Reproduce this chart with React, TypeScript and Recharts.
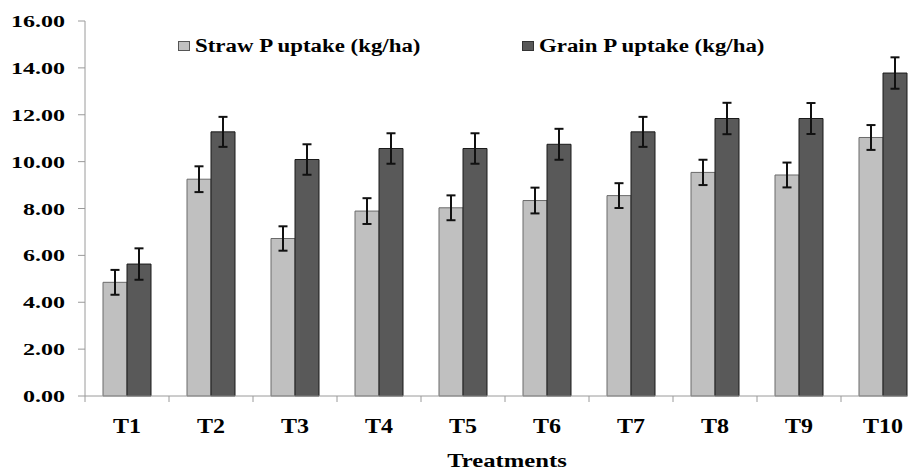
import React from "react";
import { Bar, BarChart, ErrorBar, Legend, XAxis, YAxis } from "recharts";

const treatments = ["T1", "T2", "T3", "T4", "T5", "T6", "T7", "T8", "T9", "T10"];
const strawUptake = [4.85, 9.25, 6.72, 7.89, 8.03, 8.34, 8.55, 9.54, 9.43, 11.03];
const strawError = [0.53, 0.55, 0.52, 0.55, 0.53, 0.55, 0.53, 0.54, 0.53, 0.53];
const grainUptake = [5.63, 11.27, 10.09, 10.56, 10.56, 10.74, 11.27, 11.84, 11.84, 13.78];
const grainError = [0.67, 0.64, 0.65, 0.65, 0.65, 0.66, 0.64, 0.67, 0.66, 0.67];
const yTicks = [0, 2, 4, 6, 8, 10, 12, 14, 16];

const STRAW = "Straw P uptake (kg/ha)";
const GRAIN = "Grain P uptake (kg/ha)";

const data = treatments.map((t, i) => ({
  name: t,
  straw: strawUptake[i],
  strawErr: strawError[i],
  grain: grainUptake[i],
  grainErr: grainError[i],
}));

const serif = '"Liberation Serif", "Times New Roman", serif';
const axisGray = "#9a9a9a";

function YTick({ x, y, payload }: any) {
  return (
    <text
      x={0}
      y={0}
      dy={6}
      transform={`translate(${x},${y}) scale(1.5,1)`}
      textAnchor="end"
      fontFamily={serif}
      fontWeight="bold"
      fontSize={16}
      fill="#000"
    >
      {Number(payload.value).toFixed(2)}
    </text>
  );
}

function XTick({ x, y, payload }: any) {
  const half = payload.offset || 42;
  return (
    <g>
      <line x1={x - half} x2={x - half} y1={y - 8} y2={y - 2} stroke={axisGray} />
      <text
        x={0}
        y={0}
        transform={`translate(${x},${y + 29}) scale(1.2,1)`}
        textAnchor="middle"
        fontFamily={serif}
        fontWeight="bold"
        fontSize={20}
        fill="#000"
      >
        {payload.value}
      </text>
    </g>
  );
}

function AxisTitle({ viewBox }: any) {
  const cx = viewBox.x + viewBox.width / 2 + 2;
  return (
    <text
      x={0}
      y={0}
      transform={`translate(${cx},${viewBox.y + 71}) scale(1.37,1)`}
      textAnchor="middle"
      fontFamily={serif}
      fontWeight="bold"
      fontSize={18}
      fill="#000"
    >
      Treatments
    </text>
  );
}

const legendSpots: Record<string, { box: number; text: number; border: string }> = {
  [STRAW]: { box: 178, text: 195, border: "#555" },
  [GRAIN]: { box: 522, text: 539, border: "#333" },
};

function LegendContent({ payload }: any) {
  return (
    <div style={{ position: "relative", width: 908, height: 0 }}>
      {(payload || []).map((item: any) => {
        const spot = legendSpots[item.value];
        if (!spot) return null;
        return (
          <React.Fragment key={item.value}>
            <div
              style={{
                position: "absolute",
                left: spot.box,
                top: 41,
                width: 10,
                height: 8,
                background: item.color,
                border: `1px solid ${spot.border}`,
              }}
            />
            <span
              style={{
                position: "absolute",
                left: spot.text,
                top: 37,
                whiteSpace: "nowrap",
                fontFamily: serif,
                fontWeight: "bold",
                fontSize: 18,
                lineHeight: "18px",
                color: "#000",
                transform: "scaleX(1.27)",
                transformOrigin: "left center",
              }}
            >
              {item.value}
            </span>
          </React.Fragment>
        );
      })}
    </div>
  );
}

export default function App() {
  return (
    <div
      style={{
        position: "absolute",
        left: 0,
        top: 0,
        width: 908,
        height: 470,
        overflow: "hidden",
        background: "#fff",
      }}
    >
      <BarChart
        width={930}
        height={470}
        data={data}
        margin={{ top: 21, right: 5, left: 0, bottom: 0 }}
        barCategoryGap={18}
        barGap={0}
      >
        <XAxis
          dataKey="name"
          height={74}
          axisLine={{ stroke: axisGray }}
          tickLine={false}
          tickSize={6}
          tickMargin={2}
          interval={0}
          tick={<XTick />}
          label={<AxisTitle />}
        />
        <YAxis
          width={85}
          domain={[0, 16]}
          ticks={yTicks}
          interval={0}
          axisLine={{ stroke: axisGray }}
          tickLine={{ stroke: axisGray }}
          tickSize={7}
          tickMargin={13}
          tick={<YTick />}
        />
        <Legend
          layout="vertical"
          align="center"
          verticalAlign="middle"
          wrapperStyle={{ left: 0, top: 0, width: 908, height: 0 }}
          content={<LegendContent />}
        />
        <Bar
          dataKey="straw"
          name={STRAW}
          fill="#c0c0c0"
          stroke="#6a6a6a"
          strokeWidth={1}
          isAnimationActive={false}
        >
          <ErrorBar dataKey="strawErr" width={4.5} stroke="#111" strokeWidth={2} isAnimationActive={false} />
        </Bar>
        <Bar
          dataKey="grain"
          name={GRAIN}
          fill="#595959"
          stroke="#1a1a1a"
          strokeWidth={1}
          isAnimationActive={false}
        >
          <ErrorBar dataKey="grainErr" width={4.5} stroke="#111" strokeWidth={2} isAnimationActive={false} />
        </Bar>
      </BarChart>
    </div>
  );
}
